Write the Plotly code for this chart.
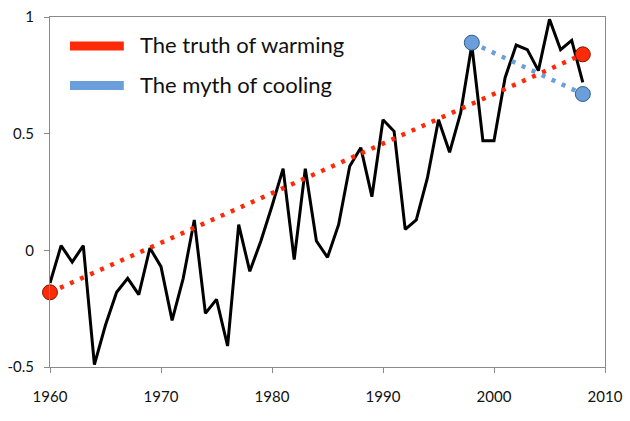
import plotly.graph_objects as go

# Annual temperature anomaly
years = list(range(1960, 2009))
anomaly = [-0.14, 0.02, -0.05, 0.02, -0.49, -0.32, -0.18, -0.12, -0.19, 0.01,
           -0.07, -0.30, -0.12, 0.13, -0.27, -0.21, -0.41, 0.11, -0.09, 0.04,
           0.19, 0.35, -0.04, 0.35, 0.04, -0.03, 0.11, 0.36, 0.44, 0.23,
           0.56, 0.51, 0.09, 0.13, 0.31, 0.56, 0.42, 0.59, 0.88, 0.47,
           0.47, 0.74, 0.88, 0.86, 0.77, 0.99, 0.86, 0.90, 0.72]

# Trend lines (endpoints)
warming_x = [1960, 2008]
warming_y = [-0.18, 0.84]
cooling_x = [1998, 2008]
cooling_y = [0.89, 0.67]

legend_labels = ["The truth of warming", "The myth of cooling"]
x_ticks = [1960, 1970, 1980, 1990, 2000, 2010]
y_ticks = [-0.5, 0, 0.5, 1]
y_tick_text = ["-0.5", "0", "0.5", "1"]

RED = "#FF2A08"
BLUE = "#6A9FDB"
FONT = "Lato"

fig = go.Figure()
fig.add_trace(go.Scatter(x=years, y=anomaly, mode="lines",
                         line=dict(color="black", width=3), showlegend=False,
                         cliponaxis=True))
fig.add_trace(go.Scatter(x=warming_x, y=warming_y, mode="lines+markers",
                         line=dict(color=RED, width=4.5, dash="4px,7px"),
                         marker=dict(size=15, color=RED, line=dict(color="#7a1a05", width=1)),
                         showlegend=False, cliponaxis=False))
fig.add_trace(go.Scatter(x=cooling_x, y=cooling_y, mode="lines+markers",
                         line=dict(color=BLUE, width=4.5, dash="4px,7px"),
                         marker=dict(size=15, color=BLUE, line=dict(color="#355a85", width=1)),
                         showlegend=False, cliponaxis=False))

# Custom legend
colors = [RED, BLUE]
ys = [0.917, 0.804]
for lab, c, yy in zip(legend_labels, colors, ys):
    fig.add_shape(type="line", xref="paper", yref="paper", x0=0.036, x1=0.133,
                  y0=yy, y1=yy, line=dict(color=c, width=9))
    fig.add_annotation(xref="paper", yref="paper", x=0.158, y=yy + 0.004,
                       xanchor="left", yanchor="middle", text=lab, showarrow=False,
                       font=dict(family=FONT, size=22, color="#111"))

axis_common = dict(showgrid=False, zeroline=False, showline=True, linecolor="#8a8a8a",
                   linewidth=1, mirror=True, ticks="outside", ticklen=5, automargin=False,
                   ticklabeloverflow="allow",
                   tickcolor="#8a8a8a", tickfont=dict(family=FONT, size=15, color="#111"))
fig.update_xaxes(range=[1960, 2010], tickvals=x_ticks, ticklabelstandoff=11, **axis_common)
fig.update_yaxes(range=[-0.5, 1], tickvals=y_ticks, ticktext=y_tick_text,
                 ticklabelstandoff=7, **axis_common)

fig.update_layout(width=630, height=421, margin=dict(l=50, r=25, t=17, b=54),
                  plot_bgcolor="white", paper_bgcolor="white", showlegend=False)

fig.write_html("out.html", config={"displayModeBar": False},
               post_script="document.body.style.margin='0';document.body.style.overflow='hidden';")
